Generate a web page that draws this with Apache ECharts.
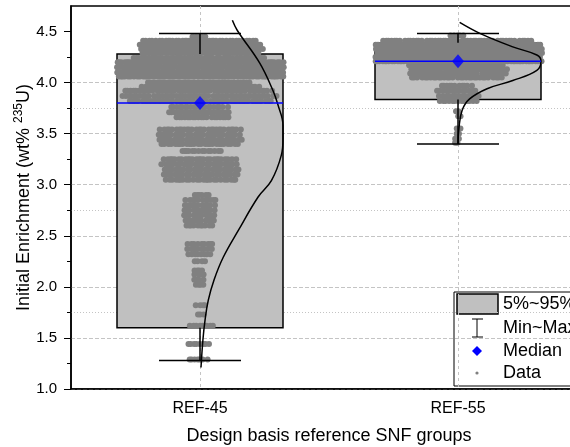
<!DOCTYPE html>
<html>
<head>
<meta charset="utf-8">
<script src="https://cdn.jsdelivr.net/npm/echarts@6/dist/echarts.min.js"></script>
<style>
  html, body { margin: 0; padding: 0; background: #fff; }
  #chart { width: 570px; height: 447px; }
</style>
</head>
<body>
<div id="chart"></div>
<script>
// Reference SNF groups and their box statistics (wt% U-235)
const groups = ['REF-45', 'REF-55'];
const minVals = [1.28, 3.40];
const p05Vals = [1.60, 3.835];
const medianVals = [3.80, 4.21];
const p95Vals = [4.28, 4.39];
const maxVals = [4.48, 4.48];

// Axis tick values
const yMajorTicks = [1.0, 1.5, 2.0, 2.5, 3.0, 3.5, 4.0, 4.5];
const yMinorTicks = [1.25, 1.75, 2.25, 2.75, 3.25, 3.75, 4.25];

// Enrichment levels and number of assemblies at each level
const ref45Levels = [4.45, 4.41, 4.37, 4.33, 4.29, 4.24, 4.20, 4.15, 4.10, 4.06, 4.00, 3.96, 3.92, 3.87, 3.82,
  3.76, 3.71, 3.66, 3.54, 3.49, 3.44, 3.40, 3.33, 3.25, 3.20, 3.15, 3.10, 3.05, 2.90, 2.85, 2.80, 2.75, 2.70,
  2.65, 2.60, 2.42, 2.37, 2.32, 2.25, 2.16, 2.12, 2.07, 2.02, 1.82, 1.73, 1.62, 1.44, 1.29];
const ref45Counts = [5, 38, 41, 42, 40, 45, 70, 80, 80, 65, 35, 40, 50, 52, 48,
  20, 21, 19, 28, 28, 28, 26, 14, 25, 26, 26, 26, 24, 6, 11, 11, 11, 11,
  11, 10, 9, 9, 8, 4, 4, 4, 4, 4, 4, 3, 9, 8, 7];

const ref55Levels = [4.46, 4.41, 4.37, 4.33, 4.29, 4.25, 4.21, 4.17, 4.13, 4.09, 4.05, 3.97, 3.92, 3.87, 3.82,
  3.72, 3.67, 3.55, 3.50, 3.45, 3.41];
const ref55Counts = [5, 50, 56, 60, 70, 75, 70, 33, 33, 33, 31, 11, 14, 14, 13,
  2, 2, 2, 2, 2, 2];

// Fitted distribution curves: enrichment and relative density (peak = 1)
const ref45FitY = [4.61, 4.51, 4.19, 3.92, 3.78, 3.58, 3.45, 3.29, 3.04, 2.88, 2.55, 2.29, 2.07, 1.87, 1.67, 1.48, 1.21];
const ref45FitDensity = [0.39, 0.45, 0.72, 0.88, 0.94, 1.0, 1.0, 0.98, 0.86, 0.70, 0.46, 0.28, 0.17, 0.10, 0.06, 0.035, 0.012];
const ref55FitY = [4.59, 4.48, 4.35, 4.27, 4.21, 4.12, 4.02, 3.94, 3.84, 3.73, 3.56, 3.40];
const ref55FitDensity = [0.02, 0.27, 0.66, 0.95, 1.0, 0.95, 0.66, 0.35, 0.14, 0.05, 0.012, 0.0];

const FONT = "'Liberation Sans', Arial, sans-serif";
const GRID = { left: 71, right: -17, top: 6, bottom: 58 };
const BOX_HALF_PX = 83;
const CAP_HALF_PX = 41;
const DOT_STEP_PX = 3;
const MAX_SPREAD_PX = 168;

const chart = echarts.init(document.getElementById('chart'), null, { renderer: 'canvas' });
const plotW = chart.getWidth() - GRID.left - GRID.right;
const unitPerPx = 2 / plotW;           // hidden value axis spans 2 units
const BOX_HALF = BOX_HALF_PX * unitPerPx;
const CAP_HALF = CAP_HALF_PX * unitPerPx;

// Spread the points of each level sideways, wider for more assemblies
function swarm(center, levels, counts) {
  const pts = [];
  levels.forEach((v, k) => {
    const n = counts[k];
    const span = Math.min(n * DOT_STEP_PX, MAX_SPREAD_PX) * unitPerPx;
    for (let i = 0; i < n; i++) {
      const t = n === 1 ? 0.5 : ((i * 0.6180339887 + k * 0.37) % 1);
      pts.push([center + (t - 0.5) * span, v]);
    }
  });
  return pts;
}

function fitCurve(center, ys, dens) {
  return ys.map((y, i) => [center + dens[i] * BOX_HALF, y]);
}

const boxData = groups.map((g, i) => [i, minVals[i], p05Vals[i], medianVals[i], p95Vals[i], maxVals[i]]);
const dots = swarm(0, ref45Levels, ref45Counts).concat(swarm(1, ref55Levels, ref55Counts));

const option = {
  animation: false,
  backgroundColor: '#fff',
  grid: { left: GRID.left, right: GRID.right, top: GRID.top, bottom: GRID.bottom,
    outerBoundsMode: 'none', containLabel: false,
    show: true, borderColor: '#000', borderWidth: 1.5, backgroundColor: 'transparent' },
  xAxis: [
    {
      type: 'category', data: groups, position: 'bottom', boundaryGap: true,
      axisLine: { onZero: false, lineStyle: { color: '#000', width: 1.5 } },
      axisTick: { alignWithLabel: true, length: 6, lineStyle: { color: '#000', width: 1 } },
      axisLabel: { fontSize: 16, color: '#000', margin: 12, fontFamily: FONT },
      splitLine: { show: false },
      name: 'Design basis reference SNF groups', nameLocation: 'middle', nameGap: 38,
      nameMoveOverlap: false,
      nameTextStyle: { fontSize: 18, color: '#000', fontFamily: FONT }
    },
    {
      type: 'value', min: -0.5, max: 1.5, interval: 0.5,
      axisLine: { show: false, onZero: false }, axisTick: { show: false }, axisLabel: { show: false },
      splitLine: { show: true, lineStyle: { type: [3, 3], width: 1, color: ['rgba(0,0,0,0)', '#c4c4c4'] } }
    }
  ],
  yAxis: [
    {
      type: 'value', min: 1, max: 4.75, interval: 0.5, position: 'left',
      axisLine: { show: true, onZero: false, lineStyle: { color: '#000', width: 1.5 } },
      axisTick: { show: true, length: 7, customValues: yMajorTicks, lineStyle: { color: '#000', width: 1 } },
      axisLabel: { customValues: yMajorTicks, formatter: v => Number(v).toFixed(1),
        fontSize: 15, color: '#000', margin: 14, fontFamily: FONT },
      splitLine: { show: true, showMaxLine: false, lineStyle: { type: [4, 2], width: 1, color: '#c4c4c4' } },
      name: 'Initial Enrichment (wt% {sup|235}U)', nameLocation: 'middle', nameGap: 36,
      nameMoveOverlap: false,
      nameTextStyle: { fontSize: 18, color: '#000', fontFamily: FONT, lineHeight: 22,
        rich: { sup: { fontSize: 12, color: '#000', fontFamily: FONT, verticalAlign: 'top', lineHeight: 22 } } }
    },
    {
      type: 'value', min: 1, max: 4.75, interval: 0.25, position: 'left', offset: 0,
      axisLine: { show: false, onZero: false },
      axisTick: { show: true, length: 4, customValues: yMinorTicks, lineStyle: { color: '#000', width: 1 } },
      axisLabel: { show: false },
      splitLine: { show: true, lineStyle: { type: [1, 2], width: 1, color: ['rgba(0,0,0,0)', '#c4c4c4'] } }
    }
  ],
  series: [
    {
      name: '5%~95%', type: 'custom', xAxisIndex: 1, yAxisIndex: 0, z: 2,
      data: boxData, encode: { x: 0, y: [1, 2, 3, 4, 5] },
      renderItem(params, api) {
        const x = api.value(0);
        const a = api.coord([x - BOX_HALF, api.value(4)]);
        const b = api.coord([x + BOX_HALF, api.value(2)]);
        return { type: 'rect', shape: { x: a[0], y: a[1], width: b[0] - a[0], height: b[1] - a[1] },
          style: { fill: '#c0c0c0', stroke: '#000', lineWidth: 1.5 } };
      }
    },
    {
      name: 'Data', type: 'scatter', xAxisIndex: 1, yAxisIndex: 0, z: 3,
      data: dots, symbol: 'circle', symbolSize: 6, itemStyle: { color: '#808080', opacity: 1 }, silent: true
    },
    {
      name: 'REF-45 fit', type: 'line', xAxisIndex: 1, yAxisIndex: 0, z: 4,
      data: fitCurve(0, ref45FitY, ref45FitDensity), smooth: 0.4, showSymbol: false, symbol: 'none',
      lineStyle: { color: '#000', width: 1.5 }
    },
    {
      name: 'REF-55 fit', type: 'line', xAxisIndex: 1, yAxisIndex: 0, z: 4,
      data: fitCurve(1, ref55FitY, ref55FitDensity), smooth: 0.4, showSymbol: false, symbol: 'none',
      lineStyle: { color: '#000', width: 1.5 }
    },
    {
      name: 'Min~Max', type: 'custom', xAxisIndex: 1, yAxisIndex: 0, z: 5,
      data: boxData, encode: { x: 0, y: [1, 2, 3, 4, 5] },
      renderItem(params, api) {
        const x = api.value(0);
        const mn = api.value(1), q1 = api.value(2), md = api.value(3), q3 = api.value(4), mx = api.value(5);
        const seg = (x1, y1, x2, y2, color) => {
          const p = api.coord([x1, y1]), q = api.coord([x2, y2]);
          return { type: 'line', shape: { x1: p[0], y1: p[1], x2: q[0], y2: q[1] },
            style: { stroke: color, lineWidth: 1.5 } };
        };
        return { type: 'group', children: [
          seg(x, mx, x, q3, '#000'),
          seg(x, q1, x, mn, '#000'),
          seg(x - CAP_HALF, mx, x + CAP_HALF, mx, '#000'),
          seg(x - CAP_HALF, mn, x + CAP_HALF, mn, '#000'),
          seg(x - BOX_HALF, md, x + BOX_HALF, md, '#0000ff')
        ] };
      }
    },
    {
      name: 'Median', type: 'scatter', xAxisIndex: 1, yAxisIndex: 0, z: 6,
      data: medianVals.map((m, i) => [i, m]), symbol: 'diamond', symbolSize: [12, 14],
      itemStyle: { color: '#0000ff' }
    }
  ],
  graphic: [
    {
      type: 'group', z: 100, children: [
        { type: 'rect', shape: { x: 454, y: 292, width: 140, height: 94 }, style: { fill: '#fff', stroke: '#000', lineWidth: 1 } },
        { type: 'rect', shape: { x: 457, y: 294, width: 41, height: 20 }, style: { fill: '#c0c0c0', stroke: '#000', lineWidth: 1.5 } },
        { type: 'line', shape: { x1: 477, y1: 319, x2: 477, y2: 337 }, style: { stroke: '#000', lineWidth: 1 } },
        { type: 'line', shape: { x1: 472, y1: 319, x2: 483, y2: 319 }, style: { stroke: '#000', lineWidth: 1 } },
        { type: 'line', shape: { x1: 472, y1: 337, x2: 483, y2: 337 }, style: { stroke: '#000', lineWidth: 1 } },
        { type: 'polygon', shape: { points: [[477, 346], [482, 351], [477, 356], [472, 351]] }, style: { fill: '#0000ff' } },
        { type: 'circle', shape: { cx: 477, cy: 373, r: 1.6 }, style: { fill: '#808080' } },
        { type: 'text', x: 503, y: 304, style: { text: '5%~95%', font: '18px ' + FONT, fill: '#000', verticalAlign: 'middle' } },
        { type: 'text', x: 503, y: 328, style: { text: 'Min~Max', font: '18px ' + FONT, fill: '#000', verticalAlign: 'middle' } },
        { type: 'text', x: 503, y: 351, style: { text: 'Median', font: '18px ' + FONT, fill: '#000', verticalAlign: 'middle' } },
        { type: 'text', x: 503, y: 373, style: { text: 'Data', font: '18px ' + FONT, fill: '#000', verticalAlign: 'middle' } }
      ]
    }
  ]
};

chart.setOption(option);
</script>
</body>
</html>
